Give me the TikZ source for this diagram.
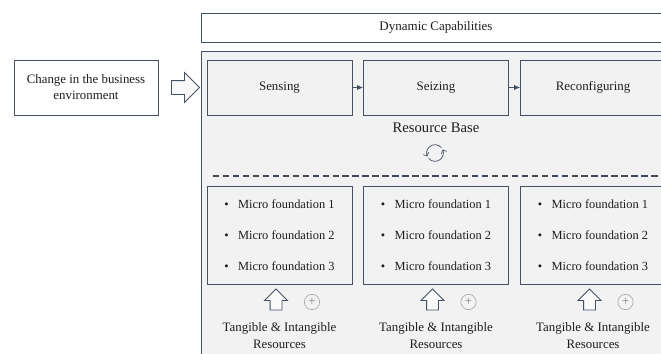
\documentclass[tikz,border=0pt]{standalone}
\usepackage{fontspec}
\setmainfont{Liberation Serif}
\usepackage{xcolor}
\usetikzlibrary{shapes.arrows,arrows.meta,positioning}
\definecolor{marco}{RGB}{70,82,100}
\definecolor{panel}{RGB}{242,242,242}
\definecolor{tinta}{RGB}{30,30,30}

\begin{document}
\begin{tikzpicture}[x=0.03cm,y=-0.03cm,
    caja/.style={draw=marco,line width=0.8pt,fill=panel,text=tinta,minimum width=4.35cm,
      minimum height=1.65cm,inner sep=0pt,font=\fontsize{11}{13.6}\selectfont},
    micro/.style={draw=marco,line width=0.8pt,fill=panel,text=tinta,minimum width=4.35cm,
      minimum height=2.94cm,inner sep=0pt,align=left,font=\fontsize{10.6}{26.4}\selectfont},
    hueca/.style={single arrow,draw=marco,line width=0.7pt,fill=white!50!panel,
      minimum width=1pt,inner xsep=0pt},
    conex/.style={-{Latex[length=5pt,width=4.5pt]},marco,line width=0.6pt},
    mas/.style={circle,draw=gray!75,line width=0.5pt,text=gray,minimum size=0.46cm,
      inner sep=0pt,font=\fontsize{11}{11}\selectfont},
    recurso/.style={align=center,text=tinta,font=\fontsize{11}{14.5}\selectfont}]
    \useasboundingbox (0,0) rectangle (661,353);
    \clip (0,0) rectangle (661,353);

    % Marco exterior y encabezado.
    \node[draw=marco,line width=0.8pt,fill=white,text=tinta,minimum width=14.1cm,
      minimum height=0.87cm,font=\fontsize{11.1}{12}\selectfont] (dyn) at (436,27.5) {Dynamic Capabilities};
    \draw[marco,line width=0.8pt,fill=panel] (201,51) rectangle (671,380);

    % Entorno y entrada.
    \node[caja,fill=white,minimum width=4.32cm,align=center] (cambio) at (86,87.5)
      {Change in the business\\environment};
    \node[hueca,minimum height=0.84cm,inner ysep=0.195cm,single arrow head extend=0.24cm]
      (entrada) at (182,87.5) {};

    % Procesos.
    \node[caja] (sens) at (279.5,87.5) {Sensing};
    \node[caja] (seiz) at (436,87.5) {Seizing};
    \node[caja] (reconf) at (593,87.5) {Reconfiguring};
    \draw[conex] (sens) -- (seiz);
    \draw[conex] (seiz) -- (reconf);

    % Base de recursos.
    \node[text=tinta,font=\fontsize{12.5}{14}\selectfont] (base) at (436,128) {Resource Base};
    \coordinate (ciclo) at (435,153);
    \begin{scope}[shift={(ciclo)},x=1cm,y=1cm,marco,line width=0.6pt]
      \draw[-{Straight Barb[length=2.5pt,width=5pt]}] (40:0.25) arc[start angle=40,end angle=205,radius=0.25];
      \draw[-{Straight Barb[length=2.5pt,width=5pt]}] (220:0.25) arc[start angle=220,end angle=385,radius=0.25];
    \end{scope}
    \draw[marco!90!black,line width=1pt,dash pattern=on 5.5pt off 3pt] (213,176) -- (665,176);

    % Microfundamentos por columna.
    \foreach \cx/\n in {279.5/1,436/2,593/3}{
      \node[micro] (mf\n) at (\cx,235)
        {\textbullet\hspace{8pt}Micro foundation 1\\
         \textbullet\hspace{8pt}Micro foundation 2\\
         \textbullet\hspace{8pt}Micro foundation 3};
      \node[hueca,rotate=90,minimum height=0.63cm,inner ysep=0.165cm,
        single arrow head extend=0.165cm,fill=white!60!panel] (up\n) at (\cx-3.5,302.5) {};
      \node[mas] (mas\n) at (\cx+32.5,302) {+};
      \node[recurso] (tir\n) at (\cx,335.5) {Tangible \& Intangible\\Resources};
    }
  \end{tikzpicture}
\end{document}
